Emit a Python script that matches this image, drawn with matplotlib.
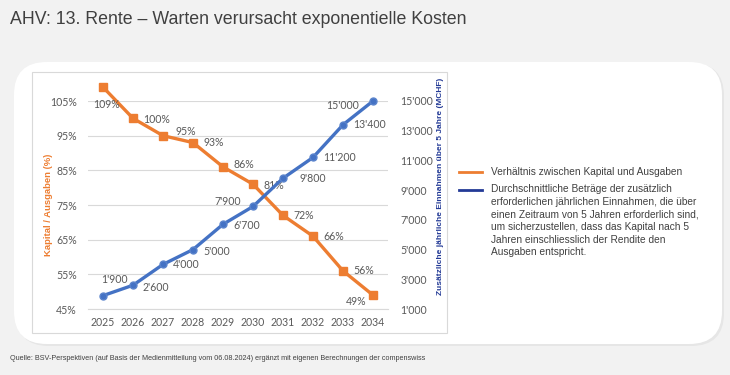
import matplotlib
matplotlib.use("Agg")
import matplotlib.pyplot as plt
from matplotlib.patches import FancyBboxPatch, Rectangle
from matplotlib.lines import Line2D
from matplotlib.ticker import FuncFormatter

years = ["2025", "2026", "2027", "2028", "2029", "2030", "2031", "2032", "2033", "2034"]
ratio = [1.09, 1.00, 0.95, 0.93, 0.86, 0.81, 0.72, 0.66, 0.56, 0.49]
income = [1900, 2600, 4000, 5000, 6700, 7900, 9800, 11200, 13400, 15000]
left_ticks = [0.45, 0.55, 0.65, 0.75, 0.85, 0.95, 1.05]
right_ticks = [1000, 3000, 5000, 7000, 9000, 11000, 13000, 15000]

ratio_offsets = [(4, -17), (10, -1), (12, 4), (10, 0), (10, 2), (10, -1), (10, 0), (10, 0), (10, 0), (-7, -6)]
income_offsets = [(11, 16), (10, -2), (10, 0), (10, -2), (10, -1), (-12, 5), (16, 0), (10, 0), (10, 0), (-14, -5)]

sans = "Liberation Sans"
tickf = "Lato"

ORANGE = "#ED7D31"
BLUE = "#4472C4"
NAVY = "#233A96"
GREY = "#595959"
FS = 7.6

W, H = 730, 375
fig = plt.figure(figsize=(W / 100, H / 100), dpi=100)
fig.patch.set_facecolor("#f2f2f2")

def fx(x):
    return x / W

def fy(y):
    return 1 - y / H

# white rounded panel with a faint shadow
shadow = FancyBboxPatch((fx(16), fy(346)), fx(708), fy(63) - fy(346),
                        boxstyle="round,pad=0,rounding_size=0.045",
                        transform=fig.transFigure, facecolor="#e6e6e6",
                        edgecolor="none", zorder=0, mutation_aspect=W / H)
fig.patches.append(shadow)
panel = FancyBboxPatch((fx(14), fy(344)), fx(708), fy(62) - fy(344),
                       boxstyle="round,pad=0,rounding_size=0.045",
                       transform=fig.transFigure, facecolor="white",
                       edgecolor="none", zorder=0.5, mutation_aspect=W / H)
fig.patches.append(panel)
# inner chart box
box = Rectangle((fx(32), fy(333)), fx(415), fy(72) - fy(333),
                transform=fig.transFigure, facecolor="white",
                edgecolor="#d9d9d9", linewidth=0.8, zorder=1)
fig.patches.append(box)

ax = fig.add_axes([fx(88), fy(309), fx(300), fy(101) - fy(309)])
ax.set_zorder(3)
ax.patch.set_visible(False)
x = list(range(len(years)))
ax.set_xlim(-0.5, len(years) - 0.5)
ax.set_ylim(0.45, 1.05)
ax.set_yticks(left_ticks)
ax.yaxis.set_major_formatter(FuncFormatter(lambda v, p: f"{round(v * 100):d}%"))
ax.set_xticks(x)
ax.set_xticklabels(years)
ax.grid(axis="y", color="#d9d9d9", linewidth=0.8)
ax.set_axisbelow(True)
for s in ax.spines.values():
    s.set_visible(False)
ax.spines["bottom"].set_visible(True)
ax.spines["bottom"].set_color("#d9d9d9")
ax.tick_params(length=0, labelsize=FS, labelcolor=GREY, pad=6)
ax.tick_params(axis="y", pad=8)
for lab in ax.get_xticklabels() + ax.get_yticklabels():
    lab.set_family(tickf)
ax.set_ylabel("Kapital / Ausgaben (%)", color=ORANGE, fontsize=6.8,
              fontweight="bold", family=sans)
ax.yaxis.set_label_coords((53 - 88) / 300, 0.5)

ax2 = ax.twinx()
ax2.set_ylim(1000, 15000)
ax2.set_yticks(right_ticks)
ax2.yaxis.set_major_formatter(FuncFormatter(lambda v, p: f"{int(v):,}".replace(",", "'")))
for s in ax2.spines.values():
    s.set_visible(False)
ax2.tick_params(length=0, labelsize=FS, labelcolor=GREY, pad=9)
for lab in ax2.get_yticklabels():
    lab.set_family(tickf)
ax2.set_ylabel("Zusätzliche jährliche Einnahmen über 5 Jahre (MCHF)", color=NAVY,
               fontsize=6, fontweight="bold", family=sans, rotation=90)
ax2.yaxis.set_label_coords((437 - 88) / 300, (309 - 186) / 208)

ax.plot(x, ratio, color=ORANGE, linewidth=2.4, marker="s", markersize=5.5,
        clip_on=False, zorder=4)
ax2.plot(x, income, color=BLUE, linewidth=2.4, marker="o", markersize=5,
         markerfacecolor=BLUE, markeredgecolor="#5b84cc", clip_on=False, zorder=4)

for i, v in enumerate(ratio):
    dx, dy = ratio_offsets[i]
    ha = "left" if dx > 0 else "right"
    if i == 0:
        ha = "center"
    ax.annotate(f"{round(v * 100):d}%", (x[i], v), textcoords="offset pixels",
                xytext=(dx, dy), ha=ha, va="center", fontsize=FS, color=GREY,
                family=tickf, annotation_clip=False, zorder=6)
for i, v in enumerate(income):
    dx, dy = income_offsets[i]
    ha = "left" if dx > 0 else "right"
    if i == 0:
        ha = "center"
    ax2.annotate(f"{v:,}".replace(",", "'"), (x[i], v), textcoords="offset pixels",
                 xytext=(dx, dy), ha=ha, va="center", fontsize=FS, color=GREY,
                 family=tickf, annotation_clip=False, zorder=6)

# legend
fig.add_artist(Line2D([fx(459), fx(482)], [fy(172), fy(172)], color=ORANGE,
                      linewidth=2, transform=fig.transFigure))
fig.add_artist(Line2D([fx(459), fx(482)], [fy(190), fy(190)], color=NAVY,
                      linewidth=2, transform=fig.transFigure))
fig.text(fx(491), fy(172), "Verhältnis zwischen Kapital und Ausgaben", fontsize=7.3,
         color="#404040", family=sans, va="center")
legend2 = ("Durchschnittliche Beträge der zusätzlich\n"
           "erforderlichen jährlichen Einnahmen, die über\n"
           "einen Zeitraum von 5 Jahren erforderlich sind,\n"
           "um sicherzustellen, dass das Kapital nach 5\n"
           "Jahren einschliesslich der Rendite den\n"
           "Ausgaben entspricht.")
fig.text(fx(491), fy(184), legend2, fontsize=7.3, color="#404040", family=sans,
         va="top", linespacing=1.33)

fig.text(fx(10), fy(19), "AHV: 13. Rente – Warten verursacht exponentielle Kosten",
         fontsize=12.8, color="#404040", family=sans, va="center")
fig.text(fx(10), fy(358),
         "Quelle: BSV-Perspektiven (auf Basis der Medienmitteilung vom 06.08.2024) "
         "ergänzt mit eigenen Berechnungen der compenswiss",
         fontsize=5.2, color="#404040", family=sans, va="center")

fig.savefig("out.png", dpi=100, facecolor=fig.get_facecolor())
